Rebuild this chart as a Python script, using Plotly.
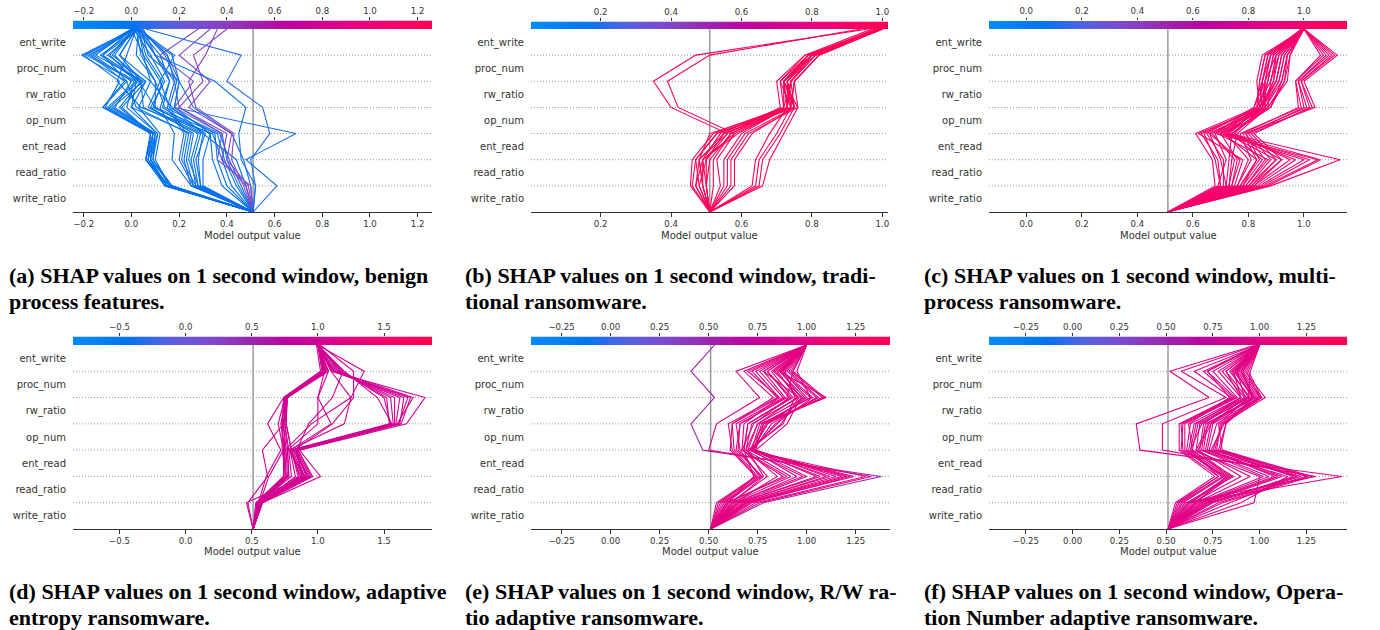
import numpy as np
import plotly.graph_objects as go

# ---------------- data ----------------
features = ["write_ratio", "read_ratio", "ent_read", "op_num", "rw_ratio", "proc_num", "ent_write"]  # bottom -> top
base_value = 0.51

# cumulative model output at each boundary: [base, after write_ratio, read_ratio, ent_read, op_num, rw_ratio, proc_num, ent_write]
paths_a = [
    [0.51, 0.14, 0.06, 0.08, -0.12, -0.02, -0.21, 0.01],
    [0.51, 0.15, 0.07, 0.09, -0.10, 0.02, -0.18, 0.02],
    [0.51, 0.15, 0.08, 0.10, -0.08, 0.05, -0.15, 0.00],
    [0.51, 0.16, 0.06, 0.08, -0.05, 0.04, -0.12, 0.03],
    [0.51, 0.14, 0.08, 0.09, -0.11, -0.05, -0.20, 0.02],
    [0.51, 0.17, 0.09, 0.11, 0.00, 0.06, -0.08, 0.01],
    [0.51, 0.15, 0.07, 0.10, -0.07, 0.00, -0.16, 0.01],
    [0.51, 0.16, 0.09, 0.10, -0.09, 0.03, -0.13, 0.02],
    [0.51, 0.14, 0.07, 0.08, -0.04, 0.06, -0.10, 0.03],
    [0.51, 0.17, 0.08, 0.11, -0.02, 0.01, -0.19, 0.00],
    [0.51, 0.15, 0.06, 0.09, -0.12, -0.03, -0.17, 0.01],
    [0.51, 0.16, 0.10, 0.12, 0.03, 0.08, -0.05, 0.02],
    [0.51, 0.25, 0.22, 0.24, 0.02, -0.02, -0.12, 0.00],
    [0.51, 0.27, 0.25, 0.28, 0.05, 0.04, -0.05, 0.02],
    [0.51, 0.29, 0.28, 0.30, 0.10, 0.10, 0.02, 0.03],
    [0.51, 0.26, 0.20, 0.22, 0.15, 0.18, 0.15, 0.04],
    [0.51, 0.30, 0.30, 0.33, 0.18, 0.20, 0.17, 0.02],
    [0.51, 0.28, 0.24, 0.26, 0.08, 0.14, 0.08, 0.01],
    [0.51, 0.25, 0.17, 0.18, 0.12, 0.16, 0.12, 0.03],
    [0.51, 0.26, 0.23, 0.25, 0.00, 0.02, -0.09, 0.01],
    [0.51, 0.28, 0.26, 0.29, 0.07, 0.12, 0.05, 0.03],
    [0.51, 0.29, 0.27, 0.31, 0.13, 0.16, 0.10, 0.02],
    [0.51, 0.27, 0.21, 0.23, 0.16, 0.19, 0.14, 0.04],
    [0.51, 0.40, 0.36, 0.35, 0.16, 0.12, 0.18, 0.03],
    [0.51, 0.42, 0.38, 0.34, 0.04, -0.06, -0.02, 0.02],
    [0.51, 0.45, 0.40, 0.38, 0.20, 0.18, 0.10, 0.05],
    [0.51, 0.48, 0.44, 0.30, 0.17, 0.08, 0.05, 0.00],
    [0.51, 0.50, 0.47, 0.42, 0.26, 0.20, 0.15, 0.04],
    [0.51, 0.44, 0.39, 0.36, 0.10, 0.03, -0.07, 0.01],
    [0.51, 0.46, 0.41, 0.37, 0.14, 0.10, 0.04, 0.02],
    [0.51, 0.38, 0.34, 0.33, 0.09, 0.13, 0.06, 0.03],
    [0.51, 0.48, 0.38, 0.40, 0.20, 0.30, 0.26, 0.40],
    [0.51, 0.49, 0.40, 0.42, 0.24, 0.33, 0.20, 0.33],
    [0.51, 0.50, 0.36, 0.38, 0.18, 0.26, 0.12, 0.28],
    [0.51, 0.47, 0.42, 0.43, 0.27, 0.24, 0.31, 0.36],
    [0.51, 0.52, 0.50, 0.58, 0.55, 0.40, 0.46, 0.06],
    [0.51, 0.61, 0.48, 0.69, 0.18, 0.20, 0.07, 0.04],
    [0.51, 0.52, 0.46, 0.45, 0.48, 0.35, 0.10, 0.03],
]

paths_b = [
    [0.51, 0.455, 0.46, 0.52, 0.72, 0.72, 0.79, 0.98],
    [0.51, 0.47, 0.48, 0.51, 0.73, 0.73, 0.80, 0.99],
    [0.51, 0.48, 0.47, 0.53, 0.74, 0.71, 0.78, 1.00],
    [0.51, 0.49, 0.49, 0.54, 0.72, 0.74, 0.81, 0.99],
    [0.51, 0.50, 0.50, 0.55, 0.75, 0.72, 0.80, 1.00],
    [0.51, 0.48, 0.50, 0.56, 0.71, 0.70, 0.78, 0.97],
    [0.51, 0.46, 0.47, 0.53, 0.73, 0.72, 0.79, 0.99],
    [0.51, 0.49, 0.48, 0.55, 0.74, 0.73, 0.80, 1.00],
    [0.51, 0.50, 0.51, 0.57, 0.74, 0.75, 0.82, 1.00],
    [0.51, 0.54, 0.53, 0.58, 0.74, 0.73, 0.80, 1.00],
    [0.51, 0.55, 0.55, 0.60, 0.73, 0.74, 0.81, 0.98],
    [0.51, 0.56, 0.56, 0.61, 0.75, 0.74, 0.81, 1.00],
    [0.51, 0.57, 0.57, 0.62, 0.76, 0.75, 0.82, 1.00],
    [0.51, 0.58, 0.58, 0.63, 0.75, 0.73, 0.79, 0.99],
    [0.51, 0.63, 0.64, 0.68, 0.73, 0.74, 0.80, 1.00],
    [0.51, 0.64, 0.65, 0.70, 0.74, 0.75, 0.82, 0.99],
    [0.51, 0.65, 0.66, 0.71, 0.75, 0.73, 0.80, 0.99],
    [0.51, 0.66, 0.68, 0.72, 0.76, 0.72, 0.81, 1.00],
    [0.51, 0.49, 0.48, 0.56, 0.40, 0.35, 0.47, 0.96],
    [0.51, 0.50, 0.49, 0.58, 0.42, 0.39, 0.51, 0.94],
    [0.51, 0.52, 0.52, 0.57, 0.72, 0.71, 0.79, 1.00],
    [0.51, 0.47, 0.49, 0.59, 0.73, 0.72, 0.80, 0.99],
]

paths_c = [
    [0.51, 0.68, 0.67, 0.61, 0.83, 0.84, 0.86, 1.00],
    [0.51, 0.70, 0.68, 0.64, 0.84, 0.83, 0.85, 1.00],
    [0.51, 0.70, 0.69, 0.63, 0.84, 0.85, 0.87, 1.00],
    [0.51, 0.72, 0.70, 0.66, 0.85, 0.86, 0.88, 1.00],
    [0.51, 0.69, 0.72, 0.68, 0.86, 0.85, 0.87, 0.99],
    [0.51, 0.73, 0.75, 0.67, 0.85, 0.87, 0.89, 1.00],
    [0.51, 0.74, 0.76, 0.70, 0.87, 0.88, 0.90, 1.00],
    [0.51, 0.74, 0.77, 0.66, 0.86, 0.86, 0.88, 1.00],
    [0.51, 0.76, 0.80, 0.72, 0.84, 0.90, 0.92, 1.00],
    [0.51, 0.77, 0.83, 0.71, 0.86, 0.91, 0.93, 1.00],
    [0.51, 0.78, 0.85, 0.74, 0.86, 0.92, 0.94, 1.00],
    [0.51, 0.79, 0.87, 0.69, 0.85, 0.89, 0.90, 1.00],
    [0.51, 0.80, 0.90, 0.72, 0.88, 0.93, 0.95, 0.99],
    [0.51, 0.81, 0.92, 0.74, 0.87, 0.94, 0.95, 1.00],
    [0.51, 0.82, 0.95, 0.75, 0.85, 0.91, 0.93, 1.00],
    [0.51, 0.83, 0.97, 0.73, 0.84, 0.90, 0.92, 1.00],
    [0.51, 0.84, 1.00, 0.70, 0.83, 0.87, 0.89, 1.00],
    [0.51, 0.85, 1.02, 0.71, 0.83, 0.88, 0.91, 1.00],
    [0.51, 0.86, 1.05, 0.68, 0.82, 0.86, 0.90, 1.00],
    [0.51, 0.87, 1.06, 0.72, 0.85, 0.90, 0.92, 1.00],
    [0.51, 0.88, 1.13, 0.73, 0.84, 0.89, 0.91, 1.00],
    [0.51, 0.75, 0.78, 0.62, 0.85, 0.84, 0.86, 1.00],
    [0.51, 0.78, 0.83, 0.78, 0.98, 0.97, 1.06, 1.00],
    [0.51, 0.77, 0.84, 0.79, 1.01, 0.98, 1.09, 1.00],
    [0.51, 0.80, 0.88, 0.80, 1.00, 0.98, 1.08, 1.00],
    [0.51, 0.81, 0.90, 0.81, 1.03, 0.99, 1.11, 1.00],
    [0.51, 0.82, 0.92, 0.82, 1.02, 0.99, 1.10, 1.00],
    [0.51, 0.79, 0.86, 0.79, 1.04, 1.00, 1.12, 1.00],
    [0.51, 0.76, 0.81, 0.77, 0.99, 0.97, 1.07, 1.00],
    [0.51, 0.73, 0.74, 0.76, 0.87, 0.93, 0.94, 1.00],
    [0.51, 0.72, 0.73, 0.74, 0.88, 0.92, 0.94, 1.00],
    [0.51, 0.71, 0.71, 0.65, 0.82, 0.85, 0.88, 1.00],
]

paths_d = [
    [0.51, 0.55, 0.61, 0.72, 0.62, 0.74, 1.03, 1.00],
    [0.51, 0.56, 0.63, 0.74, 0.70, 0.75, 1.05, 1.00],
    [0.51, 0.54, 0.75, 0.75, 0.72, 0.76, 1.04, 1.01],
    [0.51, 0.55, 0.74, 0.74, 0.73, 0.75, 1.04, 1.00],
    [0.51, 0.56, 0.76, 0.75, 0.74, 0.76, 1.05, 1.00],
    [0.51, 0.57, 0.77, 0.76, 0.74, 0.77, 1.06, 1.00],
    [0.51, 0.57, 0.78, 0.77, 0.75, 0.77, 1.06, 1.00],
    [0.51, 0.56, 0.76, 0.73, 0.73, 0.74, 1.02, 0.99],
    [0.51, 0.55, 0.80, 0.78, 0.75, 0.75, 1.05, 1.00],
    [0.51, 0.54, 0.85, 0.80, 0.76, 0.76, 1.07, 1.00],
    [0.51, 0.58, 0.86, 0.80, 0.76, 0.77, 1.08, 1.00],
    [0.51, 0.58, 0.88, 0.84, 0.93, 1.11, 1.19, 1.00],
    [0.51, 0.57, 0.83, 0.79, 1.10, 1.00, 1.08, 1.00],
    [0.51, 0.57, 0.92, 0.82, 1.11, 1.27, 1.27, 1.02],
    [0.51, 0.46, 0.90, 0.78, 1.20, 1.25, 1.35, 1.00],
    [0.51, 0.55, 0.95, 0.85, 1.55, 1.50, 1.18, 1.00],
    [0.51, 0.55, 0.90, 0.82, 1.57, 1.55, 1.16, 1.00],
    [0.51, 0.56, 0.93, 0.83, 1.58, 1.58, 1.15, 1.01],
    [0.51, 0.56, 0.92, 0.83, 1.59, 1.62, 1.13, 1.00],
    [0.51, 0.57, 0.91, 0.84, 1.62, 1.65, 1.12, 1.00],
    [0.51, 0.57, 0.94, 0.84, 1.61, 1.68, 1.12, 1.00],
    [0.51, 0.58, 0.96, 0.85, 1.63, 1.70, 1.11, 1.00],
    [0.51, 0.58, 1.02, 0.86, 1.67, 1.81, 1.10, 1.00],
    [0.51, 0.55, 0.89, 0.81, 1.60, 1.72, 1.14, 0.99],
    [0.51, 0.56, 0.87, 0.79, 1.56, 1.45, 1.20, 1.00],
    [0.51, 0.56, 0.88, 0.80, 1.54, 1.52, 1.17, 1.00],
    [0.51, 0.54, 0.78, 0.77, 1.00, 1.00, 1.05, 1.00],
    [0.51, 0.53, 0.74, 0.75, 0.95, 1.25, 1.10, 1.01],
    [0.51, 0.47, 0.62, 0.58, 0.74, 0.76, 1.04, 1.00],
]

paths_e = [
    [0.51, 0.78, 1.38, 0.47, 0.41, 0.53, 0.41, 0.53],
    [0.51, 0.76, 1.33, 0.50, 0.54, 0.76, 0.64, 1.00],
    [0.51, 0.55, 0.74, 0.62, 0.60, 0.85, 0.72, 1.00],
    [0.51, 0.56, 0.75, 0.63, 0.62, 0.86, 0.74, 1.00],
    [0.51, 0.58, 0.76, 0.66, 0.64, 0.88, 0.76, 1.00],
    [0.51, 0.59, 0.77, 0.65, 0.66, 0.89, 0.78, 1.00],
    [0.51, 0.60, 0.73, 0.68, 0.70, 0.92, 0.80, 1.00],
    [0.51, 0.61, 0.80, 0.68, 0.70, 0.93, 0.82, 1.00],
    [0.51, 0.62, 0.78, 0.70, 0.75, 0.95, 0.85, 1.00],
    [0.51, 0.63, 0.98, 0.71, 0.78, 1.02, 0.87, 1.00],
    [0.51, 0.64, 0.95, 0.72, 0.80, 1.00, 0.88, 1.00],
    [0.51, 0.65, 1.07, 0.72, 0.80, 1.06, 0.91, 1.00],
    [0.51, 0.66, 1.05, 0.73, 0.82, 1.05, 0.90, 1.00],
    [0.51, 0.67, 1.12, 0.73, 0.79, 1.09, 0.93, 1.00],
    [0.51, 0.68, 1.10, 0.74, 0.78, 1.08, 0.92, 1.00],
    [0.51, 0.69, 1.18, 0.72, 0.84, 1.03, 0.88, 1.00],
    [0.51, 0.70, 1.20, 0.72, 0.76, 1.10, 0.86, 1.00],
    [0.51, 0.71, 1.24, 0.71, 0.87, 0.96, 0.84, 1.00],
    [0.51, 0.72, 1.22, 0.71, 0.85, 0.98, 0.83, 1.00],
    [0.51, 0.74, 1.30, 0.70, 0.88, 0.94, 0.89, 1.00],
    [0.51, 0.57, 0.77, 0.64, 0.66, 0.90, 0.93, 1.00],
    [0.51, 0.60, 0.88, 0.67, 0.73, 0.91, 0.80, 1.00],
    [0.51, 0.62, 0.92, 0.69, 0.75, 0.99, 0.86, 1.00],
    [0.51, 0.63, 0.85, 0.69, 0.72, 0.96, 0.78, 1.00],
    [0.51, 0.59, 0.90, 0.67, 0.68, 0.86, 0.70, 1.00],
    [0.51, 0.65, 1.00, 0.73, 0.77, 1.02, 0.95, 1.00],
    [0.51, 0.54, 0.74, 0.61, 0.62, 0.83, 0.68, 1.00],
    [0.51, 0.69, 1.15, 0.74, 0.90, 0.97, 0.87, 1.00],
]

paths_f = [
    [0.51, 0.62, 1.44, 0.36, 0.34, 0.73, 0.52, 0.98],
    [0.51, 0.60, 1.30, 0.48, 0.48, 0.82, 0.58, 0.99],
    [0.51, 0.55, 0.76, 0.57, 0.57, 0.85, 0.65, 1.00],
    [0.51, 0.56, 0.78, 0.58, 0.59, 0.87, 0.72, 1.00],
    [0.51, 0.58, 0.80, 0.60, 0.60, 0.88, 0.75, 1.00],
    [0.51, 0.59, 0.81, 0.61, 0.63, 0.90, 0.78, 1.00],
    [0.51, 0.62, 0.83, 0.62, 0.65, 0.92, 0.80, 1.00],
    [0.51, 0.63, 0.84, 0.64, 0.67, 0.93, 0.82, 1.00],
    [0.51, 0.65, 0.85, 0.66, 0.68, 0.95, 0.84, 1.00],
    [0.51, 0.67, 1.02, 0.69, 0.71, 0.97, 0.87, 1.00],
    [0.51, 0.68, 1.05, 0.70, 0.72, 0.98, 0.88, 1.00],
    [0.51, 0.70, 1.10, 0.72, 0.75, 1.00, 0.90, 1.00],
    [0.51, 0.71, 1.12, 0.73, 0.77, 1.01, 0.91, 1.00],
    [0.51, 0.72, 1.20, 0.75, 0.80, 1.03, 0.92, 1.00],
    [0.51, 0.74, 1.18, 0.76, 0.80, 1.00, 0.93, 1.00],
    [0.51, 0.75, 1.25, 0.78, 0.82, 0.96, 0.91, 1.00],
    [0.51, 0.78, 1.26, 0.79, 0.82, 0.97, 0.90, 1.00],
    [0.51, 0.80, 1.28, 0.80, 0.78, 0.94, 0.95, 1.00],
    [0.51, 0.84, 1.20, 0.71, 0.74, 0.92, 0.88, 1.00],
    [0.51, 0.90, 1.15, 0.68, 0.70, 0.90, 0.86, 1.00],
    [0.51, 0.97, 1.00, 0.64, 0.62, 0.84, 0.72, 0.99],
    [0.51, 0.66, 0.82, 0.59, 0.58, 0.86, 0.70, 1.00],
    [0.51, 0.57, 0.78, 0.63, 0.66, 0.90, 0.82, 1.00],
    [0.51, 0.61, 0.86, 0.63, 0.69, 0.94, 0.85, 1.00],
    [0.51, 0.64, 0.90, 0.67, 0.74, 0.97, 0.86, 1.00],
    [0.51, 0.66, 0.95, 0.66, 0.73, 0.96, 0.87, 1.00],
    [0.51, 0.69, 1.08, 0.74, 0.81, 1.01, 0.94, 1.00],
    [0.51, 0.73, 1.22, 0.77, 0.79, 0.99, 0.89, 1.00],
]

ticks_a = [-0.2, 0.0, 0.2, 0.4, 0.6, 0.8, 1.0, 1.2]
ticks_b = [0.2, 0.4, 0.6, 0.8, 1.0]
ticks_c = [0.0, 0.2, 0.4, 0.6, 0.8, 1.0]
ticks_d = [-0.5, 0.0, 0.5, 1.0, 1.5]
ticks_e = [-0.25, 0.0, 0.25, 0.5, 0.75, 1.0, 1.25]
ticks_f = [-0.25, 0.0, 0.25, 0.5, 0.75, 1.0, 1.25]

captions = [
    ["(a) SHAP values on 1 second window, benign", "process features."],
    ["(b) SHAP values on 1 second window, tradi-", "tional ransomware."],
    ["(c) SHAP values on 1 second window, multi-", "process ransomware."],
    ["(d) SHAP values on 1 second window, adaptive", "entropy ransomware."],
    ["(e) SHAP values on 1 second window, R/W ra-", "tio adaptive ransomware."],
    ["(f) SHAP values on 1 second window, Opera-", "tion Number adaptive ransomware."],
]

# ---------------- colour map (shap red_blue, LCH interpolation) ----------------
def lch2rgb(L, C, h):
    a = C * np.cos(h)
    b = C * np.sin(h)
    fy = (L + 16) / 116
    fx = fy + a / 500
    fz = fy - b / 200
    d = 6 / 29
    finv = lambda t: np.where(t > d, t ** 3, 3 * d * d * (t - 4 / 29))
    X, Y, Z = 0.95047 * finv(fx), finv(fy), 1.08883 * finv(fz)
    M = np.array([[3.2406, -1.5372, -0.4986], [-0.9689, 1.8758, 0.0415], [0.0557, -0.2040, 1.0570]])
    rgb = M @ np.array([X, Y, Z])
    rgb = np.where(rgb <= 0.0031308, 12.92 * rgb, 1.055 * np.abs(rgb) ** (1 / 2.4) - 0.055)
    return np.clip(rgb, 0, 1)

def cmap(t):
    t = float(np.clip(t, 0, 1))
    L = 54 - 28 * t if t < 0.5 else 40 + 28 * (t - 0.5)
    C = 70 + 20 * t
    h = 4.6588 + (0.35470565 + 2 * np.pi - 4.6588) * t
    r, g, b = lch2rgb(L, C, h)
    return "rgb(%d,%d,%d)" % (round(r * 255), round(g * 255), round(b * 255))

colorscale = [[i / 20, cmap(i / 20)] for i in range(21)]

def fmt(v, nd):
    s = f"{abs(v):.{nd}f}"
    return ("\u2212" + s) if v < 0 else s

# ---------------- layout of the six panels (pixel geometry) ----------------
W, H = 1380, 630
panels = [
    dict(paths=paths_a, rng=(-0.245, 1.26), px=(73, 432), top=29, bot=212, cbtop=20.5, ticks=ticks_a, nd=1, cap=captions[0], capx=7, capy=(275, 301), xl=235),
    dict(paths=paths_b, rng=(0.0024, 1.016), px=(531, 888), top=29, bot=212, cbtop=21.5, ticks=ticks_b, nd=1, cap=captions[1], capx=463, capy=(275, 301), xl=235),
    dict(paths=paths_c, rng=(-0.134, 1.155), px=(989, 1347), top=29, bot=212, cbtop=21, ticks=ticks_c, nd=1, cap=captions[2], capx=922, capy=(275, 301), xl=235),
    dict(paths=paths_d, rng=(-0.852, 1.863), px=(73, 432), top=345, bot=529, cbtop=336.5, ticks=ticks_d, nd=1, cap=captions[3], capx=7, capy=(591, 617), xl=551),
    dict(paths=paths_e, rng=(-0.406, 1.425), px=(531, 890), top=345, bot=529, cbtop=336.5, ticks=ticks_e, nd=2, cap=captions[4], capx=463, capy=(591, 617), xl=551),
    dict(paths=paths_f, rng=(-0.447, 1.467), px=(989, 1347), top=345, bot=529, cbtop=336.5, ticks=ticks_f, nd=2, cap=captions[5], capx=922, capy=(591, 617), xl=551),
]

fig = go.Figure()
layout = dict(width=W, height=H, margin=dict(l=0, r=0, t=0, b=0), paper_bgcolor="white",
              plot_bgcolor="white", showlegend=False)
shapes, annotations = [], []
tickfont = dict(family="DejaVu Sans", size=8.6, color="#333333")
labfont = dict(family="DejaVu Sans", size=10, color="#333333")
yvals = list(range(len(features) + 1))

for k, p in enumerate(panels):
    mi = 2 * k + 1
    ci = 2 * k + 2
    mx, my = ("x%d" % mi if mi > 1 else "x"), ("y%d" % mi if mi > 1 else "y")
    cx, cy = "x%d" % ci, "y%d" % ci
    xd = [p["px"][0] / W, p["px"][1] / W]
    lo, hi = p["rng"]
    tt = [fmt(v, p["nd"]) for v in p["ticks"]]
    layout["xaxis" + ("" if mi == 1 else str(mi))] = dict(
        domain=xd, range=[lo, hi], anchor=my, showgrid=False, zeroline=False,
        showline=True, linecolor="#333333", linewidth=1, ticks="outside", ticklen=3.5,
        tickcolor="#333333", tickwidth=1, tickvals=p["ticks"], ticktext=tt, tickfont=tickfont)
    layout["yaxis" + ("" if mi == 1 else str(mi))] = dict(
        domain=[1 - p["bot"] / H, 1 - p["top"] / H], range=[0, len(features)], anchor=mx,
        showgrid=False, zeroline=False, showline=False, ticks="outside", ticklen=4,
        tickcolor="rgba(0,0,0,0)", tickvals=[i + 0.5 for i in range(len(features))],
        ticktext=features, tickfont=labfont)
    layout["xaxis%d" % ci] = dict(
        domain=xd, range=[lo, hi], anchor=cy, side="top", showgrid=False, zeroline=False,
        showline=False, ticks="outside", ticklen=2.5, tickcolor="#333333", tickwidth=1,
        tickvals=p["ticks"], ticktext=tt, tickfont=tickfont)
    layout["yaxis%d" % ci] = dict(
        domain=[1 - p["top"] / H, 1 - p["cbtop"] / H], range=[0, 1], anchor=cx,
        showgrid=False, zeroline=False, showline=False, showticklabels=False, ticks="")

    # colour bar strip
    grad = np.linspace(lo, hi, 300)
    fig.add_trace(go.Heatmap(x=grad, y=[0.5], z=[grad], zmin=lo, zmax=hi, colorscale=colorscale,
                             showscale=False, hoverinfo="skip", xaxis=cx, yaxis=cy))

    # dotted separators
    for i in range(1, len(features)):
        shapes.append(dict(type="line", xref=mx + " domain", yref=my, x0=0, x1=1, y0=i, y1=i,
                           line=dict(color="#999999", width=1, dash="1px,2px"), layer="below"))
    # base value line
    shapes.append(dict(type="line", xref=mx, yref=my, x0=base_value, x1=base_value, y0=0,
                       y1=len(features), line=dict(color="#9a9a9a", width=1.5), layer="below"))

    # decision lines
    for path in p["paths"]:
        col = cmap((path[-1] - lo) / (hi - lo))
        fig.add_trace(go.Scatter(x=path, y=yvals, mode="lines", line=dict(color=col, width=1.1),
                                 hoverinfo="skip", xaxis=mx, yaxis=my))

    annotations.append(dict(text="Model output value", xref="paper", yref="paper",
                            x=(xd[0] + xd[1]) / 2, y=1 - p["xl"] / H, xanchor="center",
                            yanchor="middle", showarrow=False, font=labfont))
    for j, line in enumerate(p["cap"]):
        annotations.append(dict(text="<b>%s</b>" % line, xref="paper", yref="paper",
                                x=p["capx"] / W, y=1 - p["capy"][j] / H, xanchor="left",
                                yanchor="middle", showarrow=False,
                                font=dict(family="Liberation Serif", size=22, color="black")))

layout["shapes"] = shapes
layout["annotations"] = annotations
fig.update_layout(**layout)
fig.write_html("out.html", config={"displayModeBar": False},
               post_script="document.body.style.margin='0';document.body.style.overflow='hidden';")
